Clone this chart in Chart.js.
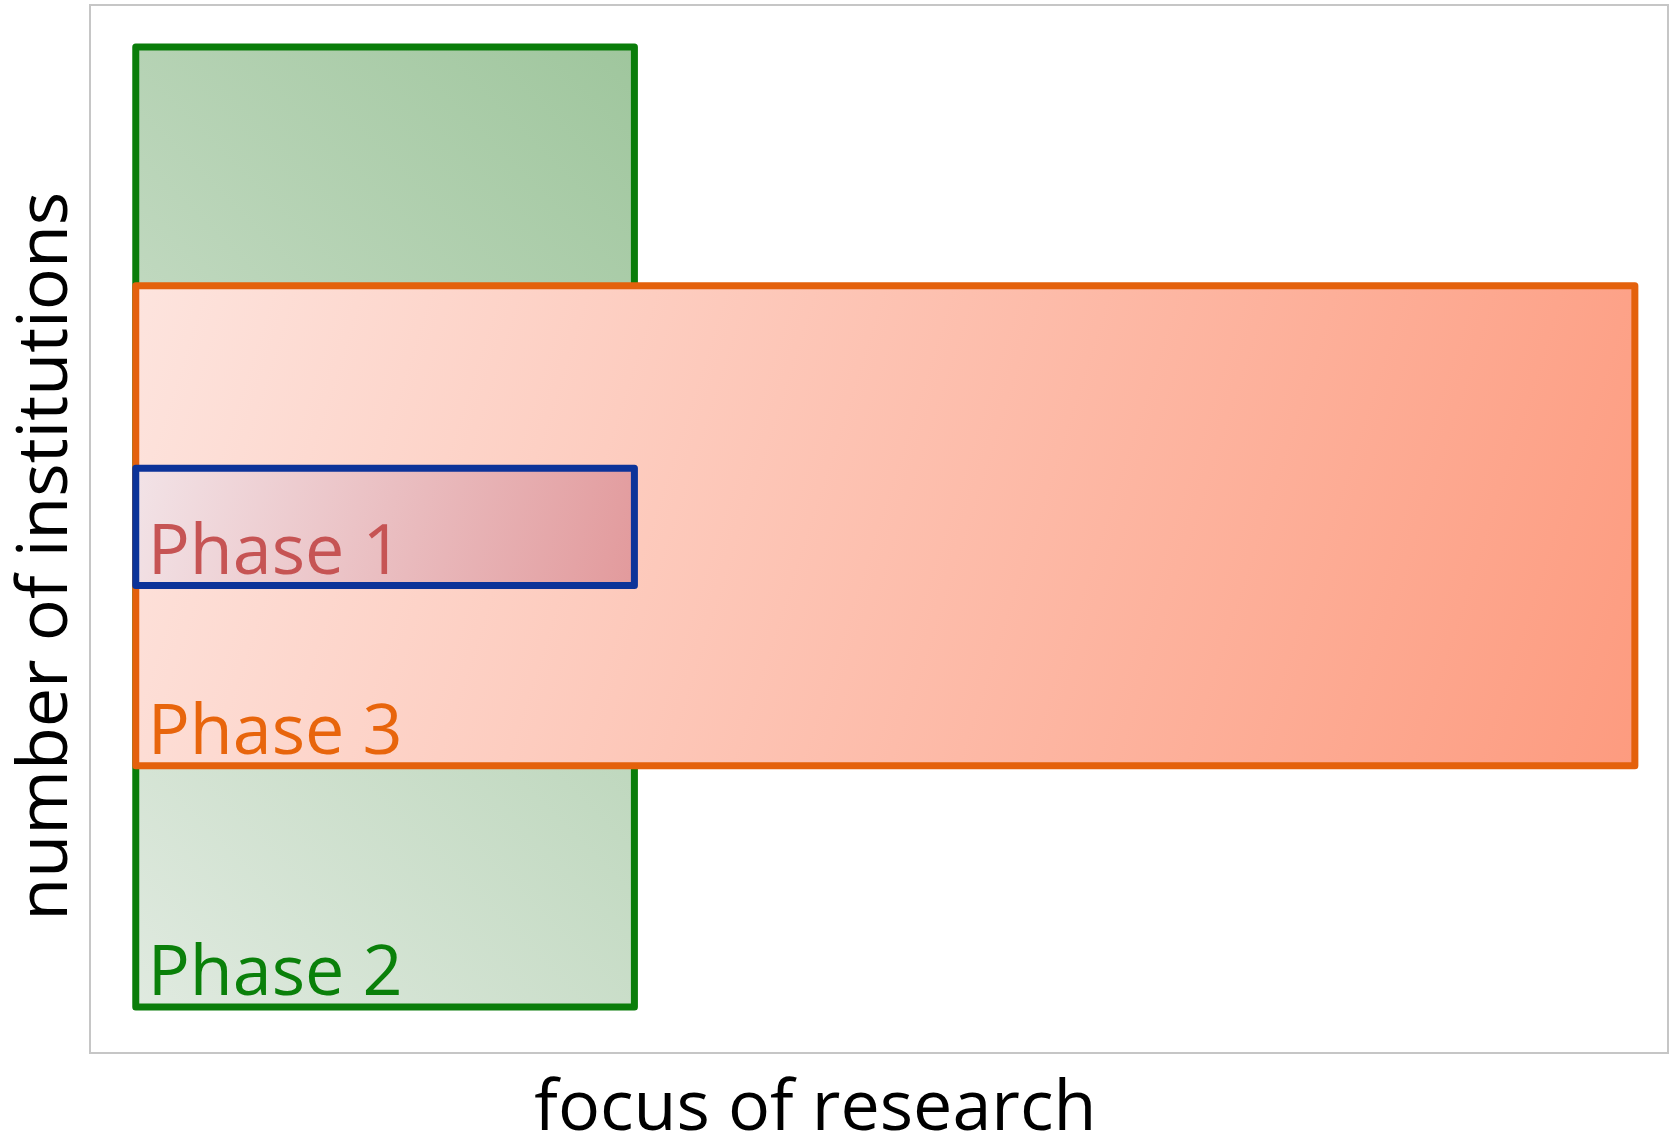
<!DOCTYPE html>
<html>
<head>
<meta charset="utf-8">
<script src="https://cdn.jsdelivr.net/npm/chart.js@4.4.1/dist/chart.umd.min.js"></script>
<style>
  html, body { margin: 0; padding: 0; background: #fff; }
  #wrap { width: 1671px; height: 1135px; }
</style>
</head>
<body>
<div id="wrap"><canvas id="phases"></canvas></div>
<script>
// phase boxes: focus range (x) and institution range (y), 0-100 scale
var phases = ['Phase 1', 'Phase 2', 'Phase 3'];
var focusStart = [2.9, 2.9, 2.9];
var focusEnd = [34.5, 34.5, 97.9];
var instLow = [44.6, 4.4, 27.4];
var instHigh = [55.8, 96.0, 73.2];

var lineColors = ['#0c3399', '#0a7d0a', '#e4610c'];
var labelColors = ['#c65454', '#0a800a', '#e8650c'];
var fillStops = [
  ['#f2e3e7', '#e29a9c'],
  ['#e0eae0', '#9fc69d'],
  ['#fde4de', '#fd9b7f']
];
var drawOrder = [1, 3, 2];

function boxPoints(i) {
  return [
    {x: focusStart[i], y: instLow[i]},
    {x: focusEnd[i], y: instLow[i]},
    {x: focusEnd[i], y: instHigh[i]},
    {x: focusStart[i], y: instHigh[i]},
    {x: focusStart[i], y: instLow[i]}
  ];
}

function boxGradient(i) {
  return function(context) {
    var chart = context.chart;
    if (!chart.chartArea) return fillStops[i][0];
    var sx = chart.scales.x, sy = chart.scales.y;
    var x0 = sx.getPixelForValue(focusStart[i]);
    var x1 = sx.getPixelForValue(focusEnd[i]);
    var yTop = sy.getPixelForValue(instHigh[i]);
    var yBot = sy.getPixelForValue(instLow[i]);
    var g;
    if (i === 1) {
      // 45 degrees from lower left, darkest at the top right corner
      var d = ((x1 - x0) + (yBot - yTop)) / 2;
      g = chart.ctx.createLinearGradient(x0, yBot, x0 + d, yBot - d);
    } else {
      g = chart.ctx.createLinearGradient(x0, yTop, x1, yBot);
    }
    g.addColorStop(0, fillStops[i][0]);
    g.addColorStop(1, fillStops[i][1]);
    return g;
  };
}

var datasets = phases.map(function(name, i) {
  return {
    label: name,
    data: boxPoints(i),
    borderColor: lineColors[i],
    borderWidth: 7,
    borderJoinStyle: 'round',
    borderCapStyle: 'round',
    backgroundColor: boxGradient(i),
    fill: 'shape',
    tension: 0,
    pointRadius: 0,
    order: drawOrder[i]
  };
});

// frame round the plot area
var frame = {
  id: 'frame',
  beforeDatasetsDraw: function(chart) {
    var a = chart.chartArea, ctx = chart.ctx;
    ctx.save();
    ctx.strokeStyle = '#c6c6c6';
    ctx.lineWidth = 2;
    ctx.strokeRect(a.left, a.top, a.right - a.left, a.bottom - a.top);
    ctx.restore();
  }
};

// phase names in the lower left corner of each box
var phaseLabels = {
  id: 'phaseLabels',
  afterDatasetsDraw: function(chart) {
    var ctx = chart.ctx, sx = chart.scales.x, sy = chart.scales.y;
    ctx.save();
    ctx.font = '70px "Open Sans"';
    ctx.textAlign = 'left';
    ctx.textBaseline = 'alphabetic';
    phases.forEach(function(name, i) {
      ctx.fillStyle = labelColors[i];
      ctx.fillText(name, sx.getPixelForValue(focusStart[i]) + 12, sy.getPixelForValue(instLow[i]) - 12);
    });
    ctx.restore();
  }
};

var ctx = document.getElementById('phases').getContext('2d');
var chart = new Chart(ctx, {
  type: 'line',
  data: { datasets: datasets },
  options: {
    responsive: true,
    maintainAspectRatio: false,
    animation: false,
    layout: { padding: { top: 5, right: 3, bottom: 0, left: 0 } },
    plugins: {
      legend: { display: false },
      tooltip: { enabled: false }
    },
    scales: {
      x: {
        type: 'linear',
        min: 0,
        max: 100,
        ticks: { display: false },
        grid: { display: false, drawTicks: false },
        border: { display: false },
        title: {
          display: true,
          // trailing spaces push the title left of the axis centre, as in the original
          text: 'focus of research       ',
          color: '#000',
          font: { family: 'Open Sans', size: 70, lineHeight: 0.7 },
          padding: { top: 33, bottom: 0 }
        }
      },
      y: {
        type: 'linear',
        min: 0,
        max: 100,
        ticks: { display: false },
        grid: { display: false, drawTicks: false },
        border: { display: false },
        title: {
          display: true,
          text: 'number of institutions   ',
          color: '#000',
          font: { family: 'Open Sans', size: 70, lineHeight: 0.8 },
          padding: { top: 19, bottom: 15 }
        }
      }
    }
  },
  plugins: [frame, phaseLabels]
});
</script>
</body>
</html>
